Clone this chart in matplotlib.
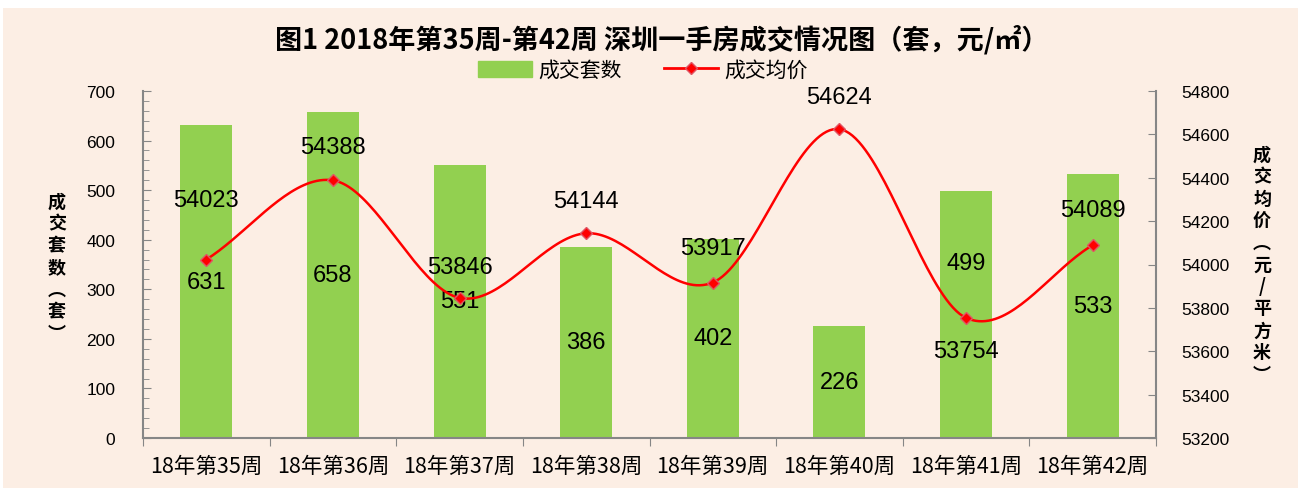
import numpy as np
import matplotlib
matplotlib.use('Agg')
import matplotlib.pyplot as plt
from matplotlib.patches import Rectangle

plt.rcParams['font.family'] = ['Liberation Sans', 'Noto Sans CJK SC']

weeks = ['18年第35周', '18年第36周', '18年第37周', '18年第38周',
         '18年第39周', '18年第40周', '18年第41周', '18年第42周']
volume = [631, 658, 551, 386, 402, 226, 499, 533]
price = [54023, 54388, 53846, 54144, 53917, 54624, 53754, 54089]

title = '图1 2018年第35周-第42周 深圳一手房成交情况图（套，元/㎡）'
left_label = '成交套数︵套︶'
right_label = '成交均价︵元/平方米︶'

# label nudges in pixels (price labels above the point, bar labels from bar middle)
price_off = [60, 33, 31, 32, 35, 32, -33, 35]
vol_off = [0, 0, 0, 0, 0, 0, 51, 0]

BG = '#FCEEE4'
GREEN = '#92D050'
GRAY = '#868686'
CJK = ['Noto Sans CJK SC', 'DejaVu Sans']

fig = plt.figure(figsize=(13.01, 4.89), dpi=100)
fig.patch.set_facecolor('white')
fig.patches.append(Rectangle((3 / 1301, 0), 1295 / 1301, 480 / 489,
                             transform=fig.transFigure, facecolor=BG,
                             edgecolor='none', zorder=-10))

ax = fig.add_axes([143 / 1301, 1 - 439 / 489, (1156 - 143) / 1301, (439 - 92) / 489])
ax.set_facecolor('none')
x = np.arange(len(weeks))
bars = ax.bar(x, volume, width=0.41, color=GREEN, zorder=2, label='成交套数')
ax.set_xlim(-0.5, len(weeks) - 0.5)
ax.set_ylim(0, 700)
ax.set_yticks(range(0, 701, 100))
ax.set_yticks(range(0, 701, 20), minor=True)
ax.tick_params(axis='y', which='major', direction='in', length=6, color=GRAY,
               labelsize=12.5, pad=20)
ax.tick_params(axis='y', which='minor', direction='in', length=4, color=GRAY)
ax.set_xticks(np.arange(-0.5, len(weeks), 1))
ax.set_xticklabels([])
ax.set_xticks(x, minor=True)
ax.set_xticklabels(weeks, minor=True, family=CJK, fontsize=15.5)
ax.tick_params(axis='x', which='major', direction='out', length=6, color=GRAY)
ax.tick_params(axis='x', which='minor', length=0, pad=12)
for s in ['top', 'right']:
    ax.spines[s].set_visible(False)
for s in ['left', 'bottom']:
    ax.spines[s].set_color(GRAY)
    ax.spines[s].set_linewidth(1.5)

for xi, v, off in zip(x, volume, vol_off):
    ax.annotate(str(v), (xi, v / 2), xytext=(0, off), textcoords='offset pixels',
                ha='center', va='center', fontsize=17, zorder=5)

ax2 = ax.twinx()
ax2.set_ylim(53200, 54800)
ax2.set_yticks(range(53200, 54801, 200))
ax2.tick_params(axis='y', direction='in', length=6, color=GRAY, labelsize=12.5, pad=18)
for s in ['top', 'left', 'bottom']:
    ax2.spines[s].set_visible(False)
ax2.spines['right'].set_color(GRAY)
ax2.spines['right'].set_linewidth(1.5)


# smooth curve through the points (Catmull-Rom, like Excel smoothing)
def smooth(xs, ys, n=40):
    xs = np.asarray(xs, float)
    ys = np.asarray(ys, float)
    px = np.concatenate([[2 * xs[0] - xs[1]], xs, [2 * xs[-1] - xs[-2]]])
    py = np.concatenate([[2 * ys[0] - ys[1]], ys, [2 * ys[-1] - ys[-2]]])
    ox, oy = [], []
    t = np.linspace(0, 1, n)
    for i in range(1, len(px) - 2):
        for arr, out in ((px, ox), (py, oy)):
            p0, p1, p2, p3 = arr[i - 1], arr[i], arr[i + 1], arr[i + 2]
            out.extend(0.5 * (2 * p1 + (-p0 + p2) * t + (2 * p0 - 5 * p1 + 4 * p2 - p3) * t ** 2
                              + (-p0 + 3 * p1 - 3 * p2 + p3) * t ** 3))
    return np.array(ox), np.array(oy)


sx, sy = smooth(x, price)
ax2.plot(sx, sy, color='red', lw=1.8, zorder=3)
ax2.plot(x, price, ls='none', marker='D', ms=6, mfc='red', mec='#E05565', mew=1, zorder=4)
for xi, p, off in zip(x, price, price_off):
    ax2.annotate(str(p), (xi, p), xytext=(0, off), textcoords='offset pixels',
                 ha='center', va='center', fontsize=17, zorder=5)

# legend
h1 = Rectangle((0, 0), 1, 1, color=GREEN)
h2 = plt.Line2D([], [], color='red', lw=2, marker='D', ms=6, mfc='red', mec='#E05565')
fig.legend([h1, h2], ['成交套数', '成交均价'], loc='center', bbox_to_anchor=(643 / 1301, 1 - 71 / 489),
           ncol=2, frameon=False, prop={'family': CJK, 'size': 15},
           handlelength=2.6, handleheight=0.8, columnspacing=2.0, handletextpad=0.3)

fig.text(662 / 1301, 1 - 40 / 489, title, ha='center', va='center', fontsize=19.5,
         fontweight='bold', family=CJK)
fig.text(57 / 1301, 1 - 268 / 489, '\n'.join(left_label), ha='center', va='center',
         fontsize=13, fontweight='bold', family=CJK, linespacing=1.2)
fig.text(1262 / 1301, 1 - 265 / 489, '\n'.join(right_label), ha='center', va='center',
         fontsize=13, fontweight='bold', family=CJK, linespacing=1.2)

fig.savefig('out.png', dpi=100, facecolor=fig.get_facecolor())
